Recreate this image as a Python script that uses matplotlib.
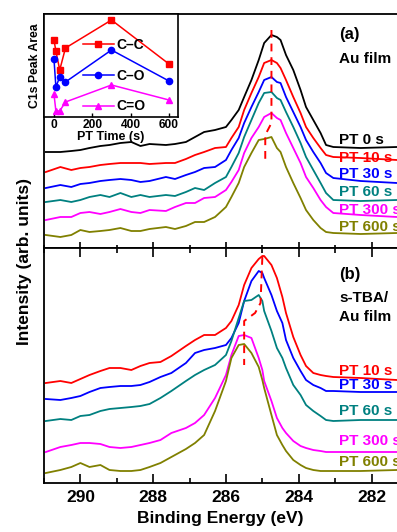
import matplotlib
matplotlib.use('Agg')
import matplotlib.pyplot as plt
from matplotlib.ticker import MultipleLocator

plt.rcParams['font.family'] = ['Liberation Sans', 'DejaVu Sans']
plt.rcParams['font.weight'] = 'bold'

# (a) Au film, binding energy grid (eV) and intensities (arb. units)
e_top = [290.95, 290.55, 290.25, 290.0, 289.75, 289.45, 289.2, 288.9, 288.6, 288.35,
         288.1, 287.65, 287.4, 287.1, 286.85, 286.6, 286.3, 286.0, 285.85, 285.65,
         285.5, 285.3, 285.1, 284.95, 284.75, 284.6, 284.5, 284.35, 284.15, 283.95,
         283.8, 283.6, 283.4, 283.25, 283.05, 282.3, 281.3]
a_0s = [96, 96, 97, 98, 100, 102, 103, 105, 106, 102, 104, 103, 104, 106, 111, 116, 118, 121,
        128, 138, 151, 168, 188, 205, 213, 211, 208, 193, 178, 158, 141, 128, 115, 103, 101, 100, 101]
a_10s = [76, 81, 78, 80, 81, 83, 84, 85, 85, 85, 84, 85, 85, 89, 93, 96, 100, 101,
         110, 121, 138, 155, 171, 185, 188, 185, 180, 168, 151, 135, 121, 110, 100, 93, 91, 90, 88]
a_30s = [60, 63, 61, 64, 65, 67, 68, 69, 68, 66, 67, 71, 69, 73, 76, 80, 81, 88,
         98, 110, 125, 141, 156, 168, 171, 166, 165, 151, 136, 121, 108, 96, 85, 75, 70, 67, 65]
a_60s = [46, 48, 46, 48, 51, 53, 51, 55, 51, 53, 51, 53, 52, 56, 60, 58, 65, 71,
         81, 95, 111, 128, 145, 155, 156, 150, 148, 136, 121, 105, 91, 78, 65, 55, 48, 47, 48]
a_300s = [28, 31, 31, 35, 36, 34, 36, 39, 36, 35, 38, 37, 41, 45, 45, 50, 51, 58,
          66, 78, 95, 110, 121, 131, 135, 130, 128, 115, 100, 85, 71, 60, 48, 41, 35, 33, 31]
a_600s = [13, 11, 13, 18, 16, 17, 18, 20, 17, 17, 19, 21, 19, 22, 26, 26, 31, 41,
          51, 65, 81, 95, 108, 109, 111, 100, 96, 81, 65, 50, 38, 28, 20, 16, 15, 14, 15]

# (b) s-TBA/Au film
e_bot = [290.95, 290.55, 290.25, 290.0, 289.75, 289.45, 289.2, 288.9, 288.6, 288.35,
         288.1, 287.8, 287.5, 287.1, 286.85, 286.6, 286.3, 286.0, 285.85, 285.65,
         285.5, 285.3, 285.1, 285.0, 284.95, 284.75, 284.6, 284.45, 284.35, 284.15,
         283.95, 283.8, 283.6, 283.4, 283.25, 283.05, 282.3, 281.3]
b_10s = [100, 102, 100, 104, 108, 112, 115, 115, 113, 117, 120, 121, 127, 137, 143, 148, 148, 155,
         162, 178, 198, 215, 224, 227, 227, 218, 205, 186, 170, 146, 128, 117, 110, 108, 107, 106, 105, 103]
b_30s = [84, 83, 85, 87, 91, 95, 96, 97, 97, 98, 101, 106, 110, 120, 130, 133, 135, 138,
         145, 160, 182, 202, 212, 210, 205, 188, 172, 160, 143, 125, 112, 103, 98, 95, 92, 92, 91, 91]
b_60s = [62, 64, 63, 67, 68, 72, 74, 75, 76, 77, 79, 85, 92, 102, 108, 113, 118, 128,
         142, 165, 182, 183, 188, 182, 172, 152, 135, 125, 115, 98, 88, 78, 72, 67, 63, 62, 63, 63]
b_300s = [31, 36, 38, 40, 40, 39, 36, 35, 36, 38, 40, 43, 50, 55, 60, 68, 85, 108,
          128, 147, 148, 145, 125, 113, 102, 82, 65, 55, 50, 42, 37, 35, 33, 32, 31, 31, 31, 31]
b_600s = [10, 13, 16, 20, 16, 18, 13, 12, 12, 13, 16, 20, 26, 34, 40, 48, 72, 102,
          125, 138, 139, 130, 116, 103, 95, 68, 48, 38, 32, 23, 18, 15, 13, 12, 12, 12, 12, 13]

# peak position guides
peak_a_e = [284.75, 284.75, 284.92, 284.92]
peak_a_v = [218, 125, 113, 85]
peak_b_e = [285.0, 285.05, 285.2, 285.5, 285.5]
peak_b_v = [226, 180, 170, 162, 118]

# inset: C1s peak areas vs PT time
pt_time = [0, 10, 30, 60, 300, 600]
area_cc = [80, 69, 50, 72, 100, 56]
area_co = [61, 33, 43, 38, 70, 39]
area_c_o = [26, 9, 9, 18, 35, 20]

colors = ['black', '#ff0000', '#0000ff', '#008080', '#ff00ff', '#808000']
labels_a = ['PT 0 s', 'PT 10 s', 'PT 30 s', 'PT 60 s', 'PT 300 s', 'PT 600 s']
labels_b = ['PT 10 s', 'PT 30 s', 'PT 60 s', 'PT 300 s', 'PT 600 s']
label_y_a = [140, 158, 174, 192, 210, 227]
label_y_b = [371, 385, 411, 441, 462]

W, H = 397, 532
fig = plt.figure(figsize=(W / 100, H / 100), dpi=100)


def fx(px):
    return px / W


def fy(py):
    return 1 - py / H


ax1 = fig.add_axes([fx(44), fy(248), 1 - fx(44), (248 - 14) / H])
ax2 = fig.add_axes([fx(44), fy(483), 1 - fx(44), (483 - 248) / H])

for y, c in zip([a_0s, a_10s, a_30s, a_60s, a_300s, a_600s], colors):
    ax1.plot(e_top, y, color=c, lw=1.3)
for y, c in zip([b_10s, b_30s, b_60s, b_300s, b_600s], colors[1:]):
    ax2.plot(e_bot, y, color=c, lw=1.3)
ax1.plot(peak_a_e, peak_a_v, color='#ff0000', ls=(0, (4, 3)), lw=1.4)
ax2.plot(peak_b_e, peak_b_v, color='#ff0000', ls=(0, (4, 3)), lw=1.4)

for ax, top in [(ax1, 234), (ax2, 235)]:
    ax.set_xlim(291.0, 281.3)
    ax.set_ylim(0, top)
    ax.set_yticks([])
    ax.spines['right'].set_visible(False)
    for s in ax.spines.values():
        s.set_linewidth(1.3)
    ax.xaxis.set_major_locator(MultipleLocator(2))
    ax.xaxis.set_minor_locator(MultipleLocator(1))

ax1.tick_params(axis='x', which='both', direction='in', labelbottom=False, width=1.2)
ax1.tick_params(axis='x', which='major', length=4.5)
ax1.tick_params(axis='x', which='minor', length=2.5)
ax2.tick_params(axis='x', which='both', direction='in', top=True, width=1.2, labelsize=12.5)
ax2.tick_params(axis='x', which='major', length=6.5, pad=5)
ax2.tick_params(axis='x', which='minor', length=3.3)
ax2.set_xlabel('Binding Energy (eV)', fontsize=12.5, fontweight='bold', labelpad=4)

fig.text(fx(25), fy(262), 'Intensity (arb. units)', rotation=90, fontsize=12.5,
         ha='center', va='center')

for t, c, py in zip(labels_a, colors, label_y_a):
    fig.text(fx(339), fy(py), t, color=c, fontsize=11, ha='left', va='center')
for t, c, py in zip(labels_b, colors[1:], label_y_b):
    fig.text(fx(339), fy(py), t, color=c, fontsize=11, ha='left', va='center')

fig.text(fx(339), fy(35), '(a)', fontsize=12, ha='left', va='center')
fig.text(fx(339), fy(59), 'Au film', fontsize=11, ha='left', va='center')
fig.text(fx(339), fy(275), '(b)', fontsize=12, ha='left', va='center')
fig.text(fx(339), fy(298), 's-TBA/', fontsize=11, ha='left', va='center')
fig.text(fx(339), fy(317), 'Au film', fontsize=11, ha='left', va='center')

# inset
axi = fig.add_axes([fx(44), fy(117), (178 - 44) / W, (117 - 14) / H])
axi.plot(pt_time, area_cc, color='#ff0000', marker='s', ms=4.5, lw=1.1, label='C–C')
axi.plot(pt_time, area_co, color='#0000ff', marker='o', ms=4.5, lw=1.1, label='C–O')
axi.plot(pt_time, area_c_o, color='#ff00ff', marker='^', ms=4.5, lw=1.1, label='C=O')
axi.set_xlim(-52, 647)
axi.set_ylim(3, 106)
axi.set_yticks([])
axi.set_xticks([0, 200, 400, 600])
axi.tick_params(axis='x', direction='in', length=3, width=1, labelsize=8.6, pad=1.5)
for s in axi.spines.values():
    s.set_linewidth(1.2)
axi.set_xlabel('PT Time (s)', fontsize=9, fontweight='bold', labelpad=0)
axi.set_ylabel('C1s Peak Area', fontsize=8.8, fontweight='bold', labelpad=2)
axi.legend(loc='center left', bbox_to_anchor=(0.22, 0.40), frameon=False, fontsize=10,
           handlelength=2.2, handletextpad=0.2, labelspacing=1.2, borderpad=0.2)

fig.savefig('out.png', dpi=100)
